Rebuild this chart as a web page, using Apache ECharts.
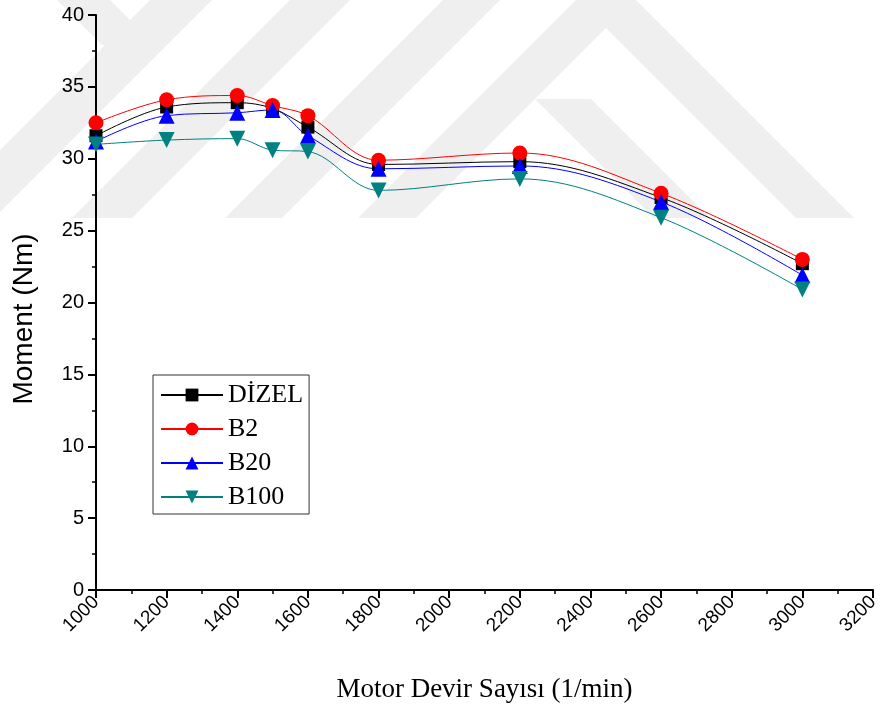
<!DOCTYPE html>
<html>
<head>
<meta charset="utf-8">
<script src="https://cdn.jsdelivr.net/npm/echarts@6/dist/echarts.min.js"></script>
<style>
  html, body { margin: 0; padding: 0; background: #fff; }
  #chart { width: 884px; height: 711px; }
</style>
</head>
<body>
<div id="chart"></div>
<script>
// Engine speed (1/min)
const rpm = [1000, 1200, 1400, 1500, 1600, 1800, 2200, 2600, 3000];

// Torque (Nm) per fuel
const dizel = [31.6, 33.6, 33.9, 33.5, 32.2, 29.6, 29.8, 27.3, 22.7];
const b2    = [32.5, 34.1, 34.4, 33.7, 33.0, 29.9, 30.4, 27.6, 23.0];
const b20   = [31.2, 33.0, 33.2, 33.4, 31.6, 29.3, 29.5, 27.0, 21.9];
const b100  = [31.0, 31.3, 31.4, 30.6, 30.5, 27.8, 28.6, 25.9, 20.9];

const seriesNames = ['DİZEL', 'B2', 'B20', 'B100'];
const xTitle = 'Motor Devir Sayısı (1/min)';
const yTitle = 'Moment (Nm)';

const serif = '"Liberation Serif", "Times New Roman", serif';
const sans = '"Liberation Sans", Arial, sans-serif';

function pairs(ys) { return rpm.map((x, i) => [x, ys[i]]); }

function lineSeries(name, ys, color, symbol, size, rotate) {
  return {
    name: name,
    type: 'line',
    data: pairs(ys),
    smooth: 0.35,
    symbol: symbol,
    symbolSize: size,
    symbolRotate: rotate || 0,
    showAllSymbol: true,
    lineStyle: { color: color, width: 1 },
    itemStyle: { color: color, borderWidth: 0 },
    emphasis: { disabled: true },
    z: 3
  };
}

// Faint diagonal background stamp behind the plot (page decoration)
const STAMP_BOTTOM = 218;
const stampFill = '#efefef';
function slashBand(c1, c2) {
  const b = STAMP_BOTTOM;
  return [[c1, 0], [c2, 0], [c2 - b, b], [c1 - b, b]];
}
function backslashBand(d1, d2, yTop, yBottom) {
  const yb = yBottom == null ? STAMP_BOTTOM : yBottom;
  return [[d1 + yTop, yTop], [d2 + yTop, yTop], [d2 + yb, yb], [d1 + yb, yb]];
}
const stampShapes = [
  slashBand(150, 212),
  slashBand(290, 350),
  slashBand(443, 500),
  slashBand(576, 634),
  backslashBand(57, 110, 0, 45),
  backslashBand(436, 492, 99),
  backslashBand(578, 636, 0)
].map(pts => ({
  type: 'polygon',
  silent: true,
  z: -10,
  shape: { points: pts },
  style: { fill: stampFill }
}));

// Vertical axis title, drawn as rotated text
const yTitleText = {
  type: 'text',
  silent: true,
  x: 24,
  y: 319,
  rotation: Math.PI / 2,
  style: {
    text: yTitle,
    fontFamily: sans,
    fontSize: 28,
    fill: '#000',
    textAlign: 'center',
    textVerticalAlign: 'middle'
  }
};

const chart = echarts.init(document.getElementById('chart'));
chart.setOption({
  animation: false,
  backgroundColor: '#fff',
  graphic: stampShapes.concat([yTitleText]),
  grid: { left: 96, right: 11, top: 15, bottom: 121, containLabel: false },
  legend: {
    data: seriesNames,
    orient: 'vertical',
    left: 153,
    top: 375,
    padding: [7, 6, 4, 7],
    itemWidth: 62,
    itemHeight: 16,
    itemGap: 8,
    borderColor: '#333',
    borderWidth: 1,
    backgroundColor: '#fff',
    textStyle: { fontFamily: serif, fontSize: 26, color: '#000' }
  },
  xAxis: {
    type: 'value',
    min: 1000,
    max: 3200,
    interval: 200,
    name: xTitle,
    nameLocation: 'middle',
    nameGap: 86,
    nameTextStyle: { fontFamily: serif, fontSize: 27, color: '#000' },
    axisLine: { onZero: false, lineStyle: { color: '#000', width: 2 } },
    axisTick: { length: 8, lineStyle: { color: '#000', width: 2 } },
    minorTick: { show: true, splitNumber: 2, length: 4, lineStyle: { color: '#000', width: 1.5 } },
    splitLine: { show: false },
    axisLabel: {
      rotate: 45, fontFamily: sans, fontSize: 19, color: '#000', margin: 9,
      formatter: v => String(v)
    }
  },
  yAxis: {
    type: 'value',
    min: 0,
    max: 40,
    interval: 5,
    axisLine: { show: true, lineStyle: { color: '#000', width: 2 } },
    axisTick: { show: true, length: 8, lineStyle: { color: '#000', width: 2 } },
    minorTick: { show: true, splitNumber: 2, length: 4, lineStyle: { color: '#000', width: 1.5 } },
    splitLine: { show: false },
    axisLabel: { fontFamily: sans, fontSize: 20, color: '#000', margin: 12 }
  },
  series: [
    lineSeries('DİZEL', dizel, '#000000', 'rect', 13),
    lineSeries('B2', b2, '#ff0000', 'circle', 15),
    lineSeries('B20', b20, '#0000ff', 'triangle', 16),
    lineSeries('B100', b100, '#008080', 'triangle', 16, 180)
  ]
});
</script>
</body>
</html>
